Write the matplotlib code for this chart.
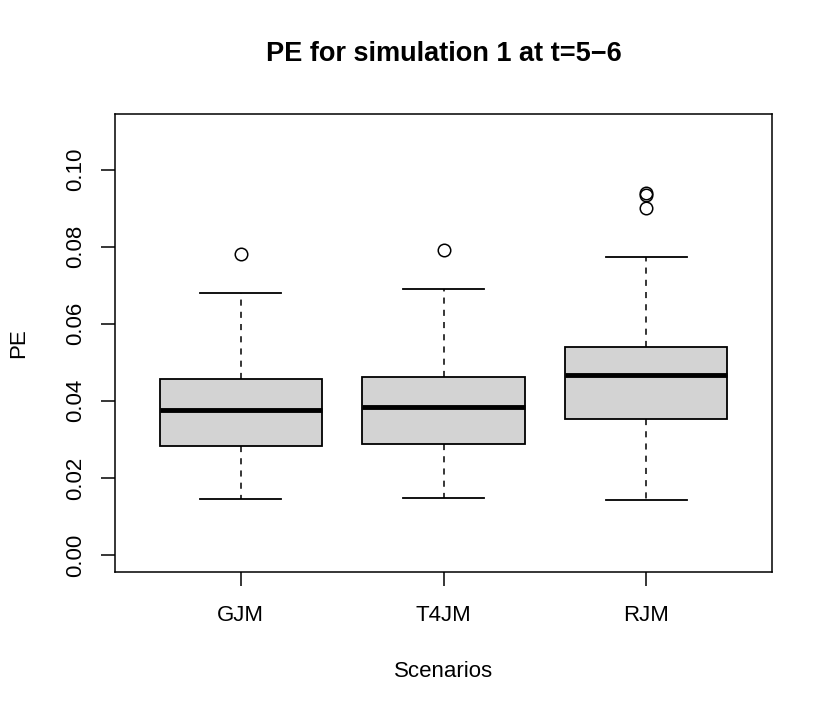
import matplotlib
matplotlib.use("Agg")
import matplotlib.pyplot as plt

plt.rcParams['font.family'] = ['Liberation Sans', 'DejaVu Sans']

# Giá trị (PE, mô phỏng 1, t=5-6)
scenarios = ["GJM", "T4JM", "RJM"]
whisker_low = [0.0145, 0.0148, 0.0143]
q1 = [0.0283, 0.0288, 0.0352]
median = [0.0377, 0.0384, 0.0468]
q3 = [0.0457, 0.0462, 0.0540]
whisker_high = [0.0680, 0.0691, 0.0774]
outliers = [[0.0781], [0.0792], [0.0940, 0.0935, 0.0899]]

stats = []
for i, name in enumerate(scenarios):
    stats.append({
        "label": name,
        "whislo": whisker_low[i],
        "q1": q1[i],
        "med": median[i],
        "q3": q3[i],
        "whishi": whisker_high[i],
        "fliers": outliers[i],
    })

fig = plt.figure(figsize=(8.3, 7.14), dpi=100)
ax = fig.add_axes([115 / 830, 1 - 572 / 714, (772 - 115) / 830, (572 - 114) / 714])

ax.bxp(stats, positions=[1, 2, 3], widths=0.8, patch_artist=True,
       boxprops=dict(facecolor="#D3D3D3", edgecolor="black", linewidth=1.3),
       medianprops=dict(color="black", linewidth=3.5, solid_capstyle="butt"),
       whiskerprops=dict(color="black", linewidth=1.1, linestyle=(0, (4, 4))),
       capprops=dict(color="black", linewidth=1.3),
       capwidths=0.4,
       flierprops=dict(marker="o", markerfacecolor="none", markeredgecolor="black",
                       markersize=9, markeredgewidth=1.1))

ax.set_xlim(0.38, 3.62)
ax.set_ylim(-0.0044, 0.1144)
ax.set_yticks([0.00, 0.02, 0.04, 0.06, 0.08, 0.10])
ax.set_yticklabels(["0.00", "0.02", "0.04", "0.06", "0.08", "0.10"],
                   rotation=90, va="center")
ax.set_xticks([1, 2, 3])
ax.set_xticklabels(scenarios)
ax.tick_params(axis="both", labelsize=16, length=10, width=1.1)
ax.tick_params(axis="y", pad=11)
ax.tick_params(axis="x", pad=14)
for sp in ax.spines.values():
    sp.set_linewidth(1.1)

ax.set_title("PE for simulation 1 at t=5\u22126", fontsize=19.5, fontweight="bold", pad=38)
ax.set_xlabel("Scenarios", fontsize=16, labelpad=25)
ax.set_ylabel("PE", fontsize=16, labelpad=26)

fig.savefig("out.png", dpi=100)
